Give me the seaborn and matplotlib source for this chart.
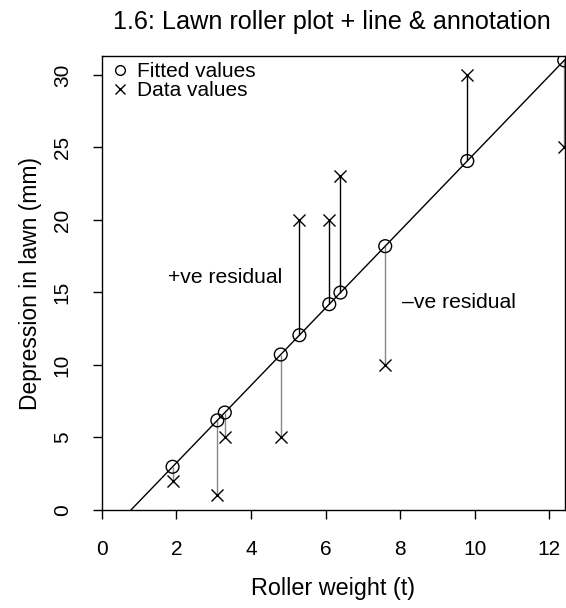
import matplotlib
matplotlib.use("Agg")
import matplotlib.pyplot as plt
import seaborn as sns
import numpy as np
import pandas as pd
from matplotlib.lines import Line2D

# Data (DAAG roller)
weight = [1.9, 3.1, 3.3, 4.8, 5.3, 6.1, 6.4, 7.6, 9.8, 12.4]
depression = [2, 1, 5, 5, 20, 20, 23, 10, 30, 25]
fitted = [2.98, 6.18, 6.72, 10.72, 12.05, 14.19, 14.99, 18.19, 24.06, 31.00]
xticks = [0, 2, 4, 6, 8, 10, 12]
yticks = [0, 5, 10, 15, 20, 25, 30]
title = "1.6: Lawn roller plot + line & annotation"
xlabel = "Roller weight (t)"
ylabel = "Depression in lawn (mm)"
legend_labels = ["Fitted values", "Data values"]
pos_label = "+ve residual"
neg_label = "\u2013ve residual"

sns.set_style("white")
plt.rcParams["font.family"] = ["Liberation Sans", "DejaVu Sans"]
plt.rcParams["text.color"] = "black"
plt.rcParams["axes.labelcolor"] = "black"

df = pd.DataFrame({"weight": weight, "depression": depression, "fitted": fitted})
df["resid"] = df["depression"] - df["fitted"]

fig = plt.figure(figsize=(5.66, 6.08), dpi=100)
ax = fig.add_axes([101.7 / 566, 1 - 510 / 608, (565 - 101.7) / 566, (510 - 56) / 608])

# residual segments
pos = df[df["resid"] > 0]
neg = df[df["resid"] <= 0]
ax.vlines(pos["weight"], pos["fitted"], pos["depression"], colors="black", lw=1.0, zorder=2)
ax.vlines(neg["weight"], neg["fitted"], neg["depression"], colors="#888888", lw=1.0, zorder=2)

# regression line
ax.axline((weight[0], fitted[0]), (weight[-1], fitted[-1]), color="black", lw=1.0, zorder=2)

sns.scatterplot(data=df, x="weight", y="fitted", marker="o", s=85, facecolor="none",
                edgecolor="black", linewidth=1.0, ax=ax, zorder=3)
sns.scatterplot(data=df, x="weight", y="depression", marker="x", s=75, color="black",
                linewidth=1.0, ax=ax, zorder=3)

ax.set_xlim(0, 12.42)
ax.set_ylim(0, 31.3)
ax.set_xticks(xticks)
ax.set_yticks(yticks)
ax.set_yticklabels([str(t) for t in yticks], rotation=90, va="center")
ax.tick_params(axis="both", direction="out", length=6.5, width=1, labelsize=15, colors="black", pad=15,
               bottom=True, left=True)
for s in ax.spines.values():
    s.set_color("black")
    s.set_linewidth(1.0)

ax.set_xlabel(xlabel, fontsize=16.8, labelpad=13, color="black")
ax.set_ylabel(ylabel, fontsize=16.5, labelpad=8, color="black")
fig.text(332 / 566, 1 - 22 / 608, title, fontsize=18.2, ha="center", va="center", color="black")

ax.text(3.3, 16.0, pos_label, fontsize=15.2, ha="center", va="center", color="black")
ax.text(8.05, 14.3, neg_label, fontsize=15.2, ha="left", va="center", color="black")

handles = [Line2D([], [], marker="o", ls="none", mfc="none", mec="black", ms=7, mew=1.0),
           Line2D([], [], marker="x", ls="none", color="black", ms=7, mew=1.0)]
leg = ax.legend(handles, legend_labels, loc="upper left", frameon=False, fontsize=15,
                handletextpad=0.2, borderaxespad=0.1, labelspacing=-0.02, handlelength=1.2,
                borderpad=0.2, labelcolor="black")

fig.savefig("out.png", dpi=100)
